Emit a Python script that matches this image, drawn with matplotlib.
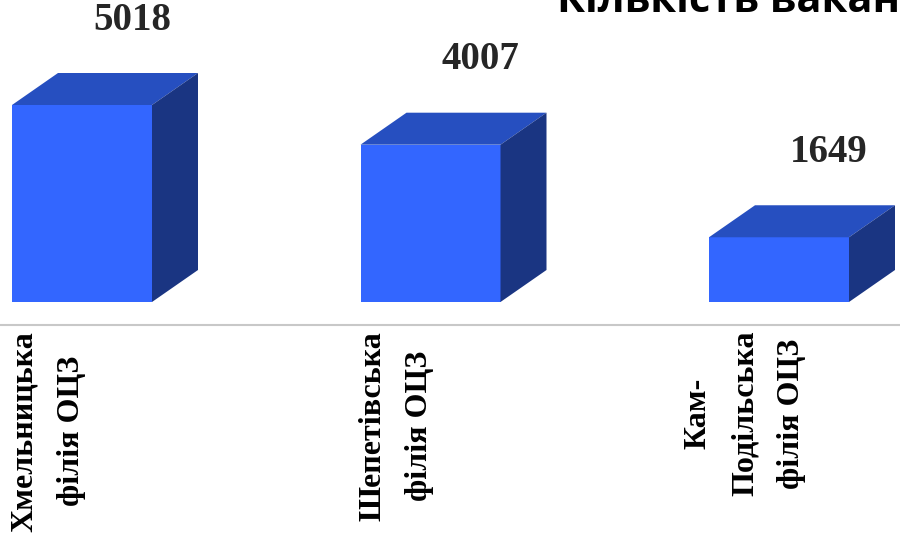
import matplotlib
matplotlib.use('Agg')
import matplotlib.pyplot as plt
from matplotlib.patches import Polygon

categories = ['Хмельницька\nфілія ОЦЗ', 'Шепетівська\nфілія ОЦЗ', 'Кам-\nПодільська\nфілія ОЦЗ']
values = [5018, 4007, 1649]
title = 'Кількість вакансій'

W, H, DPI = 900, 540, 100
fig = plt.figure(figsize=(W / DPI, H / DPI), dpi=DPI)
ax = fig.add_axes([0, 0, 1, 1])

# pixel <-> data scales
px_x = 1 / 348.5          # category units per pixel
px_y = 5018 / 197.0       # value units per pixel
ax.set_xlim(-82 * px_x, (W - 82) * px_x)
ax.set_ylim(-238 * px_y, 302 * px_y)
ax.axis('off')

bw = 140 * px_x
dx, dy = 46 * px_x, 32 * px_y
front, top_c, side_c = '#3366FF', '#264FC0', '#1A3582'

for i, v in enumerate(values):
    x0, x1 = i - bw / 2, i + bw / 2
    ax.add_patch(Polygon([(x0, 0), (x1, 0), (x1, v), (x0, v)], closed=True,
                         facecolor=front, edgecolor='none', zorder=3))
    ax.add_patch(Polygon([(x0, v), (x1, v), (x1 + dx, v + dy), (x0 + dx, v + dy)],
                         closed=True, facecolor=top_c, edgecolor='none', zorder=3))
    ax.add_patch(Polygon([(x1, 0), (x1 + dx, dy), (x1 + dx, v + dy), (x1, v)],
                         closed=True, facecolor=side_c, edgecolor='none', zorder=3))
    ax.annotate(str(v), (i + 50 * px_x, v + dy), xytext=(0, 53 * 0.72),
                textcoords='offset points', ha='center', va='center',
                fontsize=28, fontweight='bold', family='Liberation Serif',
                color='#262626')
    ax.annotate(categories[i], (i - 34 * px_x, 0), xytext=(0, -29 * 0.72),
                textcoords='offset points', ha='center', va='top',
                rotation=90, multialignment='center', linespacing=1.8,
                fontsize=23, fontweight='bold', family='Liberation Serif',
                color='black')

ax.axhline(-23 * px_y, color='#C8C8C8', lw=1.5, zorder=1)

fig.text(557 / W, 1 - 12 / H, title, ha='left', va='baseline',
         fontsize=30, fontweight='bold', family='Open Sans', color='black')

fig.savefig('out.png', dpi=DPI)
